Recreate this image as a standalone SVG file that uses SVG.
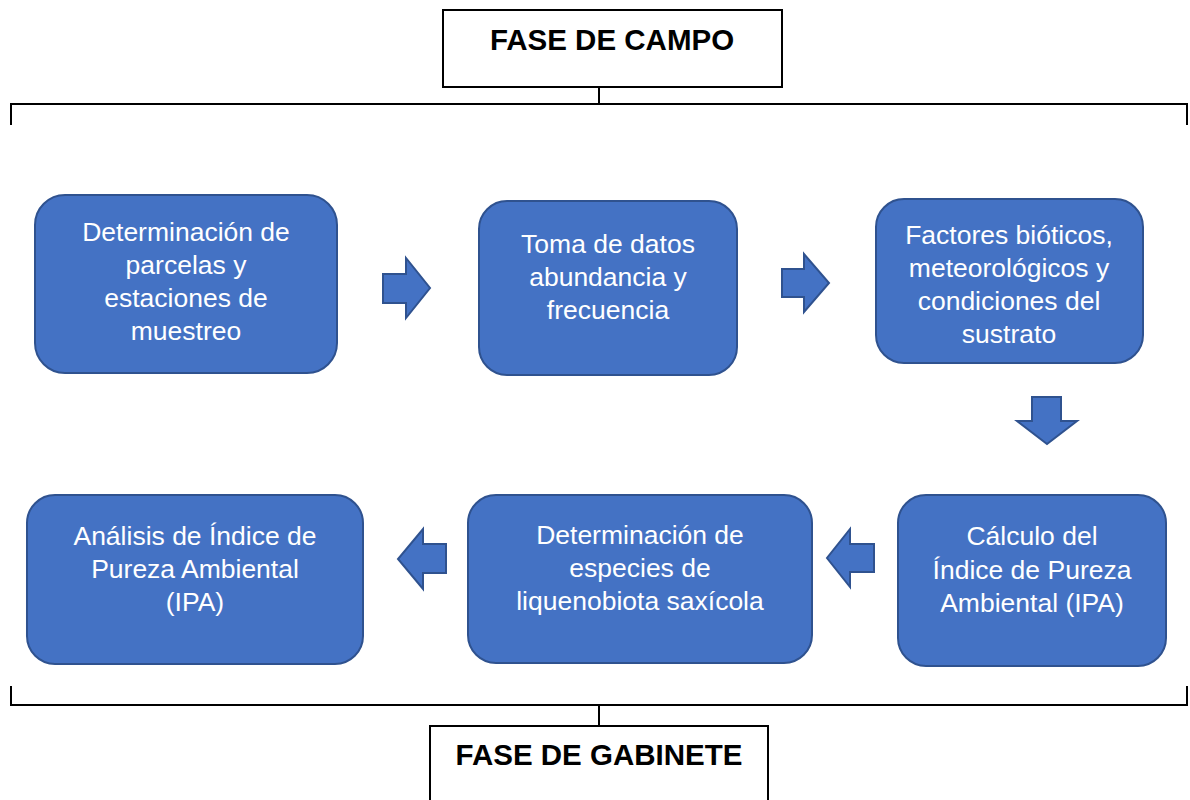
<svg xmlns="http://www.w3.org/2000/svg" width="1190" height="800" viewBox="0 0 1190 800">
<style>
.phase{fill:#fff;stroke:#000;stroke-width:2}
.ptxt{font-family:"Liberation Sans",Arial,sans-serif;font-weight:bold;font-size:29.5px;fill:#000;text-anchor:middle}
.node{fill:#4472C4;stroke:#2F528F;stroke-width:2}
.ntxt{font-family:"Liberation Sans",Arial,sans-serif;font-size:26.5px;fill:#fff;text-anchor:middle}
.arr{fill:#4472C4;stroke:#2F528F;stroke-width:2;stroke-linejoin:miter}
.brk{fill:none;stroke:#000;stroke-width:2}
</style>
<rect width="1190" height="800" fill="#fff"/>
<g id="fase-campo">
<rect class="phase" x="443" y="10" width="339" height="77"/>
<text class="ptxt" x="612" y="50">FASE DE CAMPO</text>
</g>
<g id="fase-gabinete">
<rect class="phase" x="430" y="726" width="338" height="90"/>
<text class="ptxt" x="599" y="765">FASE DE GABINETE</text>
</g>
<g id="n1">
<rect class="node" x="35" y="195" width="302" height="178" rx="30"/>
<text class="ntxt" x="186" y="241">Determinación de</text>
<text class="ntxt" x="186" y="274">parcelas y</text>
<text class="ntxt" x="186" y="307">estaciones de</text>
<text class="ntxt" x="186" y="340">muestreo</text>
</g>
<g id="n2">
<rect class="node" x="479" y="201" width="258" height="174" rx="28"/>
<text class="ntxt" x="608" y="253">Toma de datos</text>
<text class="ntxt" x="608" y="286">abundancia y</text>
<text class="ntxt" x="608" y="319">frecuencia</text>
</g>
<g id="n3">
<rect class="node" x="876" y="199" width="267" height="164" rx="28"/>
<text class="ntxt" x="1009" y="244">Factores bióticos,</text>
<text class="ntxt" x="1009" y="277">meteorológicos y</text>
<text class="ntxt" x="1009" y="310">condiciones del</text>
<text class="ntxt" x="1009" y="343">sustrato</text>
</g>
<g id="n4">
<rect class="node" x="898" y="495" width="268" height="171" rx="28"/>
<text class="ntxt" x="1032" y="545">Cálculo del</text>
<text class="ntxt" x="1032" y="579">Índice de Pureza</text>
<text class="ntxt" x="1032" y="612">Ambiental (IPA)</text>
</g>
<g id="n5">
<rect class="node" x="468" y="495" width="344" height="168" rx="28"/>
<text class="ntxt" x="640" y="544">Determinación de</text>
<text class="ntxt" x="640" y="577">especies de</text>
<text class="ntxt" x="640" y="610">liquenobiota saxícola</text>
</g>
<g id="n6">
<rect class="node" x="27" y="495" width="336" height="169" rx="28"/>
<text class="ntxt" x="195" y="545">Análisis de Índice de</text>
<text class="ntxt" x="195" y="578">Pureza Ambiental</text>
<text class="ntxt" x="195" y="611">(IPA)</text>
</g>
<g id="connectors">
<path class="brk" d="M11,125 V104 H1187 V125 M599,87 V104"/>
<path class="brk" d="M11,686 V705 H1187 V686 M599,705 V726"/>
<path class="arr" d="M383,274 H406 V258 L430,288 L406,318 V303 H383 Z"/>
<path class="arr" d="M782,269 H804 V254 L829,283 L804,312 V297 H782 Z"/>
<path class="arr" d="M1032,397 H1061 V421 H1077 L1047,444 L1017,421 H1032 Z"/>
<path class="arr" d="M874,544 H850 V529 L827,558 L850,587 V572 H874 Z"/>
<path class="arr" d="M446,544 H423 V529 L398,559 L423,589 V573 H446 Z"/>
</g>
</svg>
